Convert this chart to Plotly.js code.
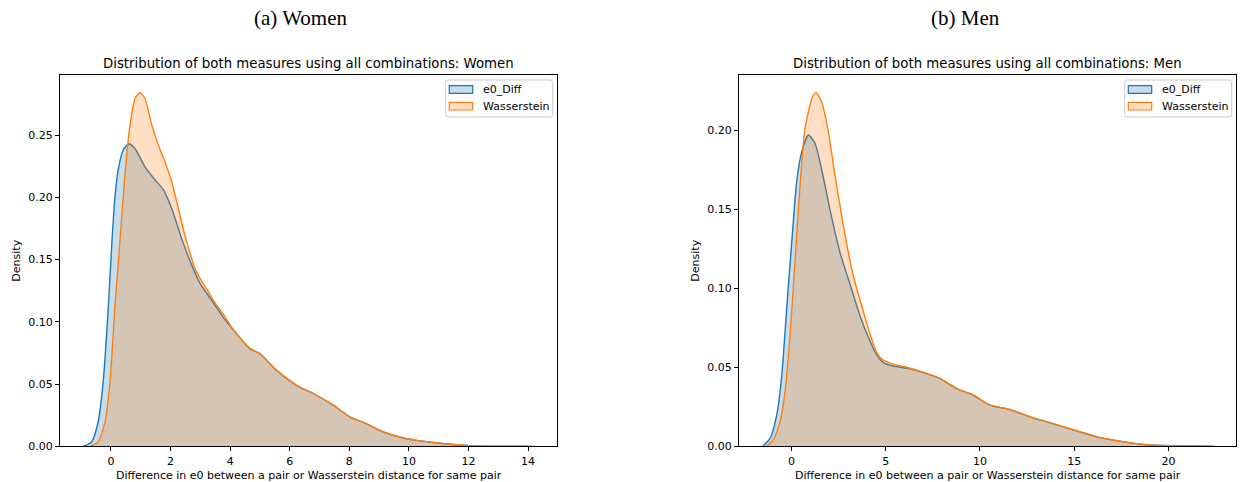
<!DOCTYPE html>
<html><head><meta charset="utf-8">
<script src="https://cdn.plot.ly/plotly-3.0.1.min.js"></script>
<style>html,body{margin:0;padding:0;background:#fff}</style>
</head><body><div id="chart" style="width:1241px;height:482px"></div>
<script>
// ---- Data ----
const seriesNames = ["e0_Diff", "Wasserstein"];
const panelHeaders = ["(a) Women", "(b) Men"];
const panelTitles = ["Distribution of both measures using all combinations: Women",
                     "Distribution of both measures using all combinations: Men"];
const xLabel = "Difference in e0 between a pair or Wasserstein distance for same pair";
const yLabel = "Density";

const women_e0_x = [-0.93,-0.65,-0.43,-0.26,-0.09,0.02,0.13,0.25,0.41,0.60,0.81,1.14,1.48,1.76,2.04,2.37,2.71,2.99,3.43,3.83,4.0,4.5,4.67,5.0,5.23,5.56,6.23,6.9,7.46,8.02,8.58,9.14,9.81,10.26,10.82,11.38,12.05,13.0,14.0];
const women_e0_y = [0,0.0035,0.0195,0.052,0.111,0.159,0.199,0.223,0.238,0.243,0.239,0.2245,0.214,0.206,0.191,0.167,0.1455,0.1308,0.1155,0.1015,0.0965,0.0823,0.0783,0.0744,0.069,0.061,0.049,0.041,0.033,0.0236,0.018,0.0115,0.0067,0.0048,0.003,0.0016,0.0005,0.0001,0];
const women_w_x = [-0.70,-0.43,-0.2,-0.03,0.13,0.30,0.47,0.64,0.81,0.97,1.14,1.37,1.59,1.81,2.04,2.26,2.48,2.82,2.99,3.27,3.43,3.83,4.0,4.5,4.67,5.0,5.23,5.56,6.23,6.9,7.46,8.02,8.58,9.14,9.81,10.26,10.82,11.38,12.05,13.0,14.23];
const women_w_y = [0,0.0035,0.0195,0.052,0.111,0.164,0.218,0.258,0.2795,0.284,0.2795,0.258,0.242,0.2285,0.2125,0.191,0.1696,0.1428,0.1348,0.124,0.1174,0.104,0.0973,0.0826,0.0785,0.0745,0.069,0.061,0.049,0.041,0.033,0.0236,0.018,0.0115,0.0067,0.0048,0.003,0.0016,0.0005,0.0001,0];

const men_e0_x = [-1.52,-1.13,-0.78,-0.51,-0.25,0.02,0.28,0.55,0.90,1.25,1.6,2.05,2.58,3.11,3.64,4.17,4.52,4.87,5.4,6.29,7.17,7.88,8.76,9.65,10.53,11.59,12.65,13.54,14.42,15.3,16.19,17.07,17.95,18.84,20.07,22.3];
const men_e0_y = [0,0.005,0.0198,0.045,0.0873,0.1295,0.1675,0.1865,0.197,0.1918,0.1755,0.1495,0.1225,0.1025,0.0825,0.0665,0.058,0.053,0.0508,0.049,0.046,0.0428,0.0365,0.0323,0.026,0.0232,0.0186,0.0155,0.0123,0.0091,0.006,0.0039,0.0022,0.001,0.0004,0];
const men_w_x = [-1.31,-0.96,-0.6,-0.34,-0.07,0.19,0.46,0.72,1.08,1.30,1.6,1.96,2.31,2.75,3.28,3.81,4.17,4.52,4.87,5.4,6.29,7.17,7.88,8.76,9.65,10.53,11.59,12.65,13.54,14.42,15.3,16.19,17.07,17.95,18.84,20.07,22.46];
const men_w_y = [0,0.004,0.0156,0.0346,0.0704,0.117,0.1654,0.201,0.220,0.224,0.218,0.199,0.1717,0.140,0.108,0.0855,0.071,0.0595,0.0545,0.052,0.0494,0.0462,0.043,0.0367,0.0325,0.0261,0.0234,0.0187,0.0156,0.0124,0.0092,0.0061,0.004,0.0023,0.001,0.0004,0];

const women_xticks = [0,2,4,6,8,10,12,14];
const women_yticks = [0,0.05,0.10,0.15,0.20,0.25];
const men_xticks = [0,5,10,15,20];
const men_yticks = [0,0.05,0.10,0.15,0.20];

// ---- Styling ----
const W = 1241, H = 482;
const BLUE = "#1f77b4", ORANGE = "#ff7f0e";
const BLUE_F = "rgba(31,119,180,0.25)", ORANGE_F = "rgba(255,127,14,0.25)";
const FONT = "DejaVu Sans";
const px = v => v / W, py = v => 1 - v / H;

function kde(x, y, ax, col, fill) {
  return {x: x, y: y, xaxis: ax[0], yaxis: ax[1], type: "scatter", mode: "lines",
    fill: "tozeroy", fillcolor: fill, line: {color: col, width: 1.4, shape: "spline", smoothing: 0.6},
    hoverinfo: "skip", showlegend: false};
}
const data = [
  kde(women_e0_x, women_e0_y, ["x","y"], BLUE, BLUE_F),
  kde(women_w_x, women_w_y, ["x","y"], ORANGE, ORANGE_F),
  kde(men_e0_x, men_e0_y, ["x2","y2"], BLUE, BLUE_F),
  kde(men_w_x, men_w_y, ["x2","y2"], ORANGE, ORANGE_F)
];

const plotTop = 75, plotBot = 446.3;
const panels = [{l: 60, r: 557}, {l: 739, r: 1236}];

function xax(dom, range, ticks, anchor) {
  return {domain: dom, range: range, tickvals: ticks, ticktext: ticks.map(String), anchor: anchor,
    ticks: "outside", ticklen: 4, tickwidth: 1, tickcolor: "#000",
    showline: true, mirror: true, linecolor: "#000", linewidth: 1,
    showgrid: false, zeroline: false, fixedrange: true,
    tickfont: {family: FONT, size: 11, color: "#000"}};
}
function yax(dom, range, ticks, anchor) {
  return {domain: dom, range: range, tickvals: ticks, ticktext: ticks.map(v => v.toFixed(2)), anchor: anchor,
    ticks: "outside", ticklen: 4, tickwidth: 1, tickcolor: "#000",
    showline: true, mirror: true, linecolor: "#000", linewidth: 1,
    showgrid: false, zeroline: false, fixedrange: true,
    tickfont: {family: FONT, size: 11, color: "#000"}};
}
const ydom = [py(plotBot), py(plotTop)];

const annotations = [];
const shapes = [];
panels.forEach((p, i) => {
  const cx = (p.l + p.r) / 2;
  annotations.push({xref: "paper", yref: "paper", x: px(cx), y: py(63.3), text: panelTitles[i],
    showarrow: false, xanchor: "center", yanchor: "middle", font: {family: FONT, size: 13.3, color: "#000"}});
  annotations.push({xref: "paper", yref: "paper", x: px(cx), y: py(475), text: xLabel,
    showarrow: false, xanchor: "center", yanchor: "middle", font: {family: FONT, size: 11, color: "#000"}});
  annotations.push({xref: "paper", yref: "paper", x: px(p.l - 43), y: py((plotTop + plotBot) / 2), text: yLabel,
    textangle: -90, showarrow: false, xanchor: "center", yanchor: "middle", font: {family: FONT, size: 11, color: "#000"}});
  // legend
  const lx0 = p.r - 111.3, lx1 = p.r - 4.3, ly0 = 80, ly1 = 117, rr = 2.5;
  shapes.push({type: "path", xref: "paper", yref: "paper",
    path: `M${px(lx0+rr)},${py(ly0)} L${px(lx1-rr)},${py(ly0)} Q${px(lx1)},${py(ly0)} ${px(lx1)},${py(ly0+rr)} ` +
          `L${px(lx1)},${py(ly1-rr)} Q${px(lx1)},${py(ly1)} ${px(lx1-rr)},${py(ly1)} ` +
          `L${px(lx0+rr)},${py(ly1)} Q${px(lx0)},${py(ly1)} ${px(lx0)},${py(ly1-rr)} ` +
          `L${px(lx0)},${py(ly0+rr)} Q${px(lx0)},${py(ly0)} ${px(lx0+rr)},${py(ly0)} Z`,
    fillcolor: "rgba(255,255,255,0.8)", line: {color: "#cccccc", width: 1}});
  const cols = [[BLUE, BLUE_F], [ORANGE, ORANGE_F]];
  [[85.7, 93.3], [102.3, 110]].forEach((yy, k) => {
    shapes.push({type: "rect", xref: "paper", yref: "paper",
      x0: px(lx0 + 3.6), x1: px(lx0 + 27), y0: py(yy[1]), y1: py(yy[0]),
      fillcolor: cols[k][1], line: {color: cols[k][0], width: 1.2}});
    annotations.push({xref: "paper", yref: "paper", x: px(lx0 + 35.3), y: py((yy[0] + yy[1]) / 2),
      text: seriesNames[k], showarrow: false, xanchor: "left", yanchor: "middle",
      font: {family: FONT, size: 11, color: "#000"}});
  });
});
annotations.push({xref: "paper", yref: "paper", x: px(300.5), y: py(18), text: panelHeaders[0],
  showarrow: false, xanchor: "center", yanchor: "middle", font: {family: "Liberation Serif", size: 21, color: "#000"}});
annotations.push({xref: "paper", yref: "paper", x: px(965), y: py(18), text: panelHeaders[1],
  showarrow: false, xanchor: "center", yanchor: "middle", font: {family: "Liberation Serif", size: 21, color: "#000"}});

const layout = {
  width: W, height: H, margin: {l: 0, r: 0, t: 0, b: 0},
  paper_bgcolor: "#fff", plot_bgcolor: "#fff", showlegend: false,
  xaxis: xax([px(panels[0].l), px(panels[0].r)], [-1.71, 14.97], women_xticks, "y"),
  yaxis: yax(ydom, [0, 0.2982], women_yticks, "x"),
  xaxis2: xax([px(panels[1].l), px(panels[1].r)], [-2.78, 23.58], men_xticks, "y2"),
  yaxis2: yax(ydom, [0, 0.235], men_yticks, "x2"),
  annotations: annotations, shapes: shapes
};
Plotly.newPlot("chart", data, layout, {staticPlot: true, displayModeBar: false});
</script></body></html>
